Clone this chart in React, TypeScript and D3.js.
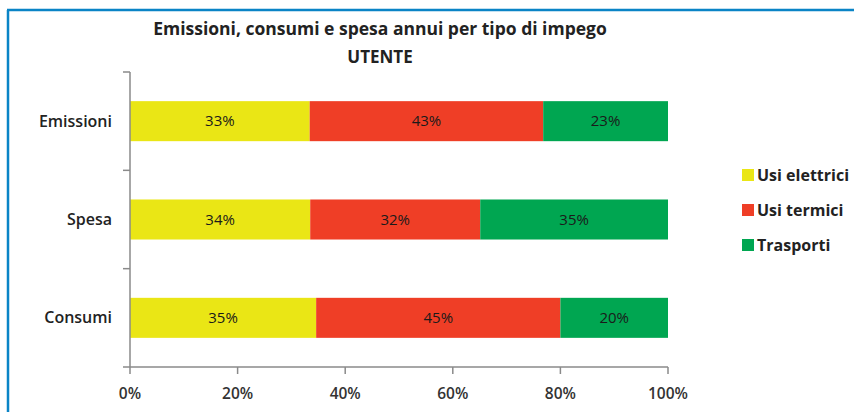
import React, { useEffect, useRef } from "react";
import * as d3 from "d3";

// dati (quote percentuali per categoria)
const categories = ["Emissioni", "Spesa", "Consumi"];
const seriesNames = ["Usi elettrici", "Usi termici", "Trasporti"];
const usiElettrici = [33.4, 33.5, 34.6];
const usiTermici = [43.4, 31.6, 45.4];
const trasporti = [23.2, 34.9, 20.0];
const xTicks = [0, 20, 40, 60, 80, 100];

const colors = ["#EAE615", "#EF3E26", "#00A651"];
const FONT = "'Open Sans', sans-serif";

const App = () => {
  const svgRef = useRef<SVGSVGElement>(null);

  useEffect(() => {
    const width = 854;
    const height = 412;
    const svg = d3.select(svgRef.current).attr("width", width).attr("height", height);
    svg.selectAll("*").remove();

    // cornice blu
    svg.append("line")
      .attr("x1", 7).attr("y1", 10).attr("x2", width).attr("y2", 10)
      .attr("stroke", "#0A84C6").attr("stroke-width", 2.5);
    svg.append("line")
      .attr("x1", 8).attr("y1", 10).attr("x2", 8).attr("y2", height)
      .attr("stroke", "#0A84C6").attr("stroke-width", 2.5);

    // titolo
    svg.append("text")
      .attr("x", 380).attr("y", 35)
      .attr("text-anchor", "middle")
      .style("font-family", FONT).style("font-weight", "bold").style("font-size", "17.5px")
      .attr("fill", "#222")
      .text("Emissioni, consumi e spesa annui per tipo di impego");
    svg.append("text")
      .attr("x", 380).attr("y", 63)
      .attr("text-anchor", "middle")
      .style("font-family", FONT).style("font-weight", "bold").style("font-size", "17px")
      .attr("fill", "#222")
      .text("UTENTE");

    const x = d3.scaleLinear().domain([0, 100]).range([130, 668]);
    const y = d3.scaleBand<string>().domain(categories).range([72, 367])
      .paddingInner(0.593).paddingOuter(0.2965);

    const rows = categories.map((c, i) => ({
      cat: c,
      "Usi elettrici": usiElettrici[i],
      "Usi termici": usiTermici[i],
      Trasporti: trasporti[i],
    }));
    const stacked = d3.stack<any>().keys(seriesNames)(rows);

    const g = svg.append("g");
    stacked.forEach((layer, si) => {
      layer.forEach((d: any) => {
        const x0 = x(d[0]);
        const x1 = x(d[1]);
        const yy = y(d.data.cat)!;
        g.append("rect")
          .attr("x", x0).attr("y", yy)
          .attr("width", x1 - x0).attr("height", y.bandwidth())
          .attr("fill", colors[si]);
        g.append("text")
          .attr("x", (x0 + x1) / 2).attr("y", yy + y.bandwidth() / 2)
          .attr("dy", "0.35em").attr("text-anchor", "middle")
          .style("font-family", FONT).style("font-size", "15px")
          .attr("fill", "#1a1a1a")
          .text(Math.round(d[1] - d[0]) + "%");
      });
    });

    // assi
    const axisColor = "#8a8a8a";
    svg.append("line")
      .attr("x1", x(0)).attr("x2", x(0)).attr("y1", 72).attr("y2", 367)
      .attr("stroke", axisColor).attr("stroke-width", 1.5);
    d3.range(categories.length + 1).forEach((i) => {
      const yy = 72 + i * y.step();
      svg.append("line")
        .attr("x1", x(0) - 7).attr("x2", x(0)).attr("y1", yy).attr("y2", yy)
        .attr("stroke", axisColor).attr("stroke-width", 1.5);
    });
    svg.append("line")
      .attr("x1", x(0)).attr("x2", x(100)).attr("y1", 367).attr("y2", 367)
      .attr("stroke", axisColor).attr("stroke-width", 1.5);
    xTicks.forEach((t) => {
      svg.append("line")
        .attr("x1", x(t)).attr("x2", x(t)).attr("y1", 367).attr("y2", 374)
        .attr("stroke", axisColor).attr("stroke-width", 1.5);
      svg.append("text")
        .attr("x", x(t)).attr("y", 399).attr("text-anchor", "middle")
        .style("font-family", FONT).style("font-size", "15.5px").style("font-weight", "600")
        .attr("fill", "#333")
        .text(t + "%");
    });

    categories.forEach((c) => {
      svg.append("text")
        .attr("x", 112).attr("y", y(c)! + y.bandwidth() / 2)
        .attr("dy", "0.35em").attr("text-anchor", "end")
        .style("font-family", FONT).style("font-size", "16px").style("font-weight", "600")
        .attr("fill", "#222")
        .text(c);
    });

    // legenda
    seriesNames.forEach((s, i) => {
      const yy = 175 + i * 35;
      svg.append("rect")
        .attr("x", 742).attr("y", yy - 6).attr("width", 12).attr("height", 12)
        .attr("fill", colors[i]);
      svg.append("text")
        .attr("x", 757).attr("y", yy).attr("dy", "0.35em")
        .style("font-family", FONT).style("font-size", "16px").style("font-weight", "bold")
        .attr("fill", "#222")
        .text(s);
    });
  }, []);

  return (
    <svg ref={svgRef} style={{ position: "absolute", left: 0, top: 0, background: "#fff" }}></svg>
  );
};

export default App;
